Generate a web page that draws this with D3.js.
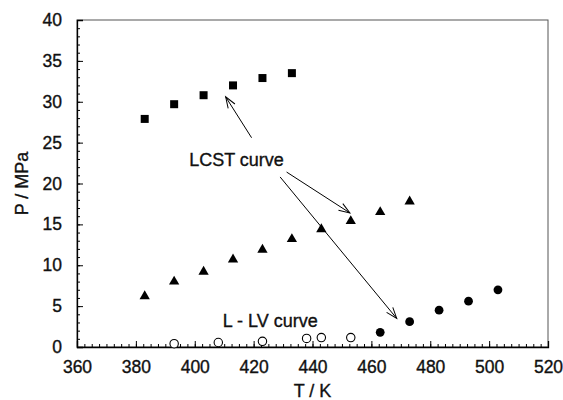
<!DOCTYPE html>
<html>
<head>
<meta charset="utf-8">
<script src="https://cdn.jsdelivr.net/npm/d3@7"></script>
<style>
  body { margin: 0; background: #fff; }
  text { font-family: Arial, "Liberation Sans", sans-serif; fill: #111; stroke: #111; stroke-width: 0.35px; }
</style>
</head>
<body>
<div class="chart"></div>
<script>
// data (T in K, P in MPa)
var lcstSquaresT = [383, 393, 403, 413, 423, 433];
var lcstSquaresP = [27.9, 29.7, 30.8, 32.0, 32.9, 33.5];

var lcstTrianglesT = [383, 393, 403, 413, 423, 433, 443, 453, 463, 473];
var lcstTrianglesP = [6.2, 8.0, 9.2, 10.7, 11.9, 13.2, 14.4, 15.4, 16.5, 17.8];

var lcstCirclesT = [463, 473, 483, 493, 503];
var lcstCirclesP = [1.8, 3.1, 4.5, 5.6, 7.0];

var llvT = [393, 408, 423, 438, 443, 453];
var llvP = [0.4, 0.55, 0.7, 1.05, 1.15, 1.15];

var xTicks = [360, 380, 400, 420, 440, 460, 480, 500, 520];
var yTicks = [0, 5, 10, 15, 20, 25, 30, 35, 40];

// annotation arrows, [T0, P0, T1, P1] in data units
var arrows = [
  [419.3, 25.6, 410.5, 30.6],
  [431.2, 21.4, 452.7, 16.4],
  [429.0, 20.8, 468.6, 3.5]
];

var svgWidth = 563;
var svgHeight = 400;
var margin = { top: 20, right: 15, bottom: 53, left: 77 };
var width = svgWidth - margin.left - margin.right;
var height = svgHeight - margin.top - margin.bottom;

var svg = d3.select(".chart")
  .append("svg")
  .attr("width", svgWidth)
  .attr("height", svgHeight);

var chart = svg.append("g")
  .attr("transform", "translate(" + margin.left + "," + margin.top + ")");

var x = d3.scaleLinear().domain([360, 520]).range([0, width]);
var y = d3.scaleLinear().domain([0, 40]).range([height, 0]);

// frame (top and right)
chart.append("rect")
  .attr("width", width)
  .attr("height", height)
  .attr("fill", "none")
  .attr("stroke", "#555")
  .attr("stroke-width", 1);

// minor ticks, inside
var xMinor = d3.range(360, 520.1, 2.5);
var yMinor = d3.range(0, 40.1, 1);

chart.append("g")
  .attr("transform", "translate(0," + height + ")")
  .call(d3.axisBottom(x).tickValues(xMinor).tickSize(-3).tickFormat(""))
  .call(function (g) { g.select(".domain").remove(); });

chart.append("g")
  .call(d3.axisLeft(y).tickValues(yMinor).tickSize(-3).tickFormat(""))
  .call(function (g) { g.select(".domain").remove(); });

// major ticks and labels
var xAxis = chart.append("g")
  .attr("transform", "translate(0," + height + ")")
  .call(d3.axisBottom(x).tickValues(xTicks).tickSize(-6).tickPadding(14).tickFormat(d3.format("d")));
xAxis.selectAll("text").attr("font-size", 17.5).attr("fill", "#111");

var yAxis = chart.append("g")
  .call(d3.axisLeft(y).tickValues(yTicks).tickSize(-6).tickPadding(15).tickFormat(d3.format("d")));
yAxis.selectAll("text").attr("font-size", 17.5).attr("fill", "#111");

chart.selectAll(".domain").attr("stroke", "#000").attr("stroke-width", 1.3);
chart.selectAll(".tick line").attr("stroke", "#000");

// axis titles
svg.append("text")
  .attr("x", margin.left + width / 2)
  .attr("y", 397)
  .attr("text-anchor", "middle")
  .attr("font-size", 18)
  .text("T / K");

svg.append("text")
  .attr("transform", "translate(28," + (margin.top + height / 2) + ") rotate(-90)")
  .attr("text-anchor", "middle")
  .attr("font-size", 18)
  .text("P / MPa");

// markers
chart.selectAll(".sq")
  .data(lcstSquaresT)
  .enter().append("rect")
  .attr("class", "sq")
  .attr("x", function (d) { return x(d) - 4; })
  .attr("y", function (d, i) { return y(lcstSquaresP[i]) - 4; })
  .attr("width", 8)
  .attr("height", 8)
  .attr("fill", "#000");

chart.selectAll(".tri")
  .data(lcstTrianglesT)
  .enter().append("path")
  .attr("class", "tri")
  .attr("d", d3.symbol().type(d3.symbolTriangle).size(46))
  .attr("transform", function (d, i) {
    return "translate(" + x(d) + "," + y(lcstTrianglesP[i]) + ")";
  })
  .attr("fill", "#000");

chart.selectAll(".dot")
  .data(lcstCirclesT)
  .enter().append("circle")
  .attr("class", "dot")
  .attr("cx", function (d) { return x(d); })
  .attr("cy", function (d, i) { return y(lcstCirclesP[i]); })
  .attr("r", 4.4)
  .attr("fill", "#000");

chart.selectAll(".odot")
  .data(llvT)
  .enter().append("circle")
  .attr("class", "odot")
  .attr("cx", function (d) { return x(d); })
  .attr("cy", function (d, i) { return y(llvP[i]); })
  .attr("r", 4.2)
  .attr("fill", "#fff")
  .attr("stroke", "#000")
  .attr("stroke-width", 1.1);

// arrows
svg.append("defs").append("marker")
  .attr("id", "head")
  .attr("viewBox", "-12 -6 14 12")
  .attr("refX", 0)
  .attr("refY", 0)
  .attr("markerWidth", 14)
  .attr("markerHeight", 12)
  .attr("markerUnits", "userSpaceOnUse")
  .attr("orient", "auto")
  .append("path")
  .attr("d", "M-11,-4 L0,0 L-11,4")
  .attr("fill", "none")
  .attr("stroke", "#000")
  .attr("stroke-width", 1);

chart.selectAll(".arrow")
  .data(arrows)
  .enter().append("line")
  .attr("class", "arrow")
  .attr("x1", function (d) { return x(d[0]); })
  .attr("y1", function (d) { return y(d[1]); })
  .attr("x2", function (d) { return x(d[2]); })
  .attr("y2", function (d) { return y(d[3]); })
  .attr("stroke", "#000")
  .attr("stroke-width", 1)
  .attr("marker-end", "url(#head)");

// labels
chart.append("text")
  .attr("x", x(398.1))
  .attr("y", y(22.1))
  .attr("font-size", 18)
  .text("LCST curve");

chart.append("text")
  .attr("x", x(409.5))
  .attr("y", y(2.5))
  .attr("font-size", 18)
  .text("L - LV curve");
</script>
</body>
</html>
